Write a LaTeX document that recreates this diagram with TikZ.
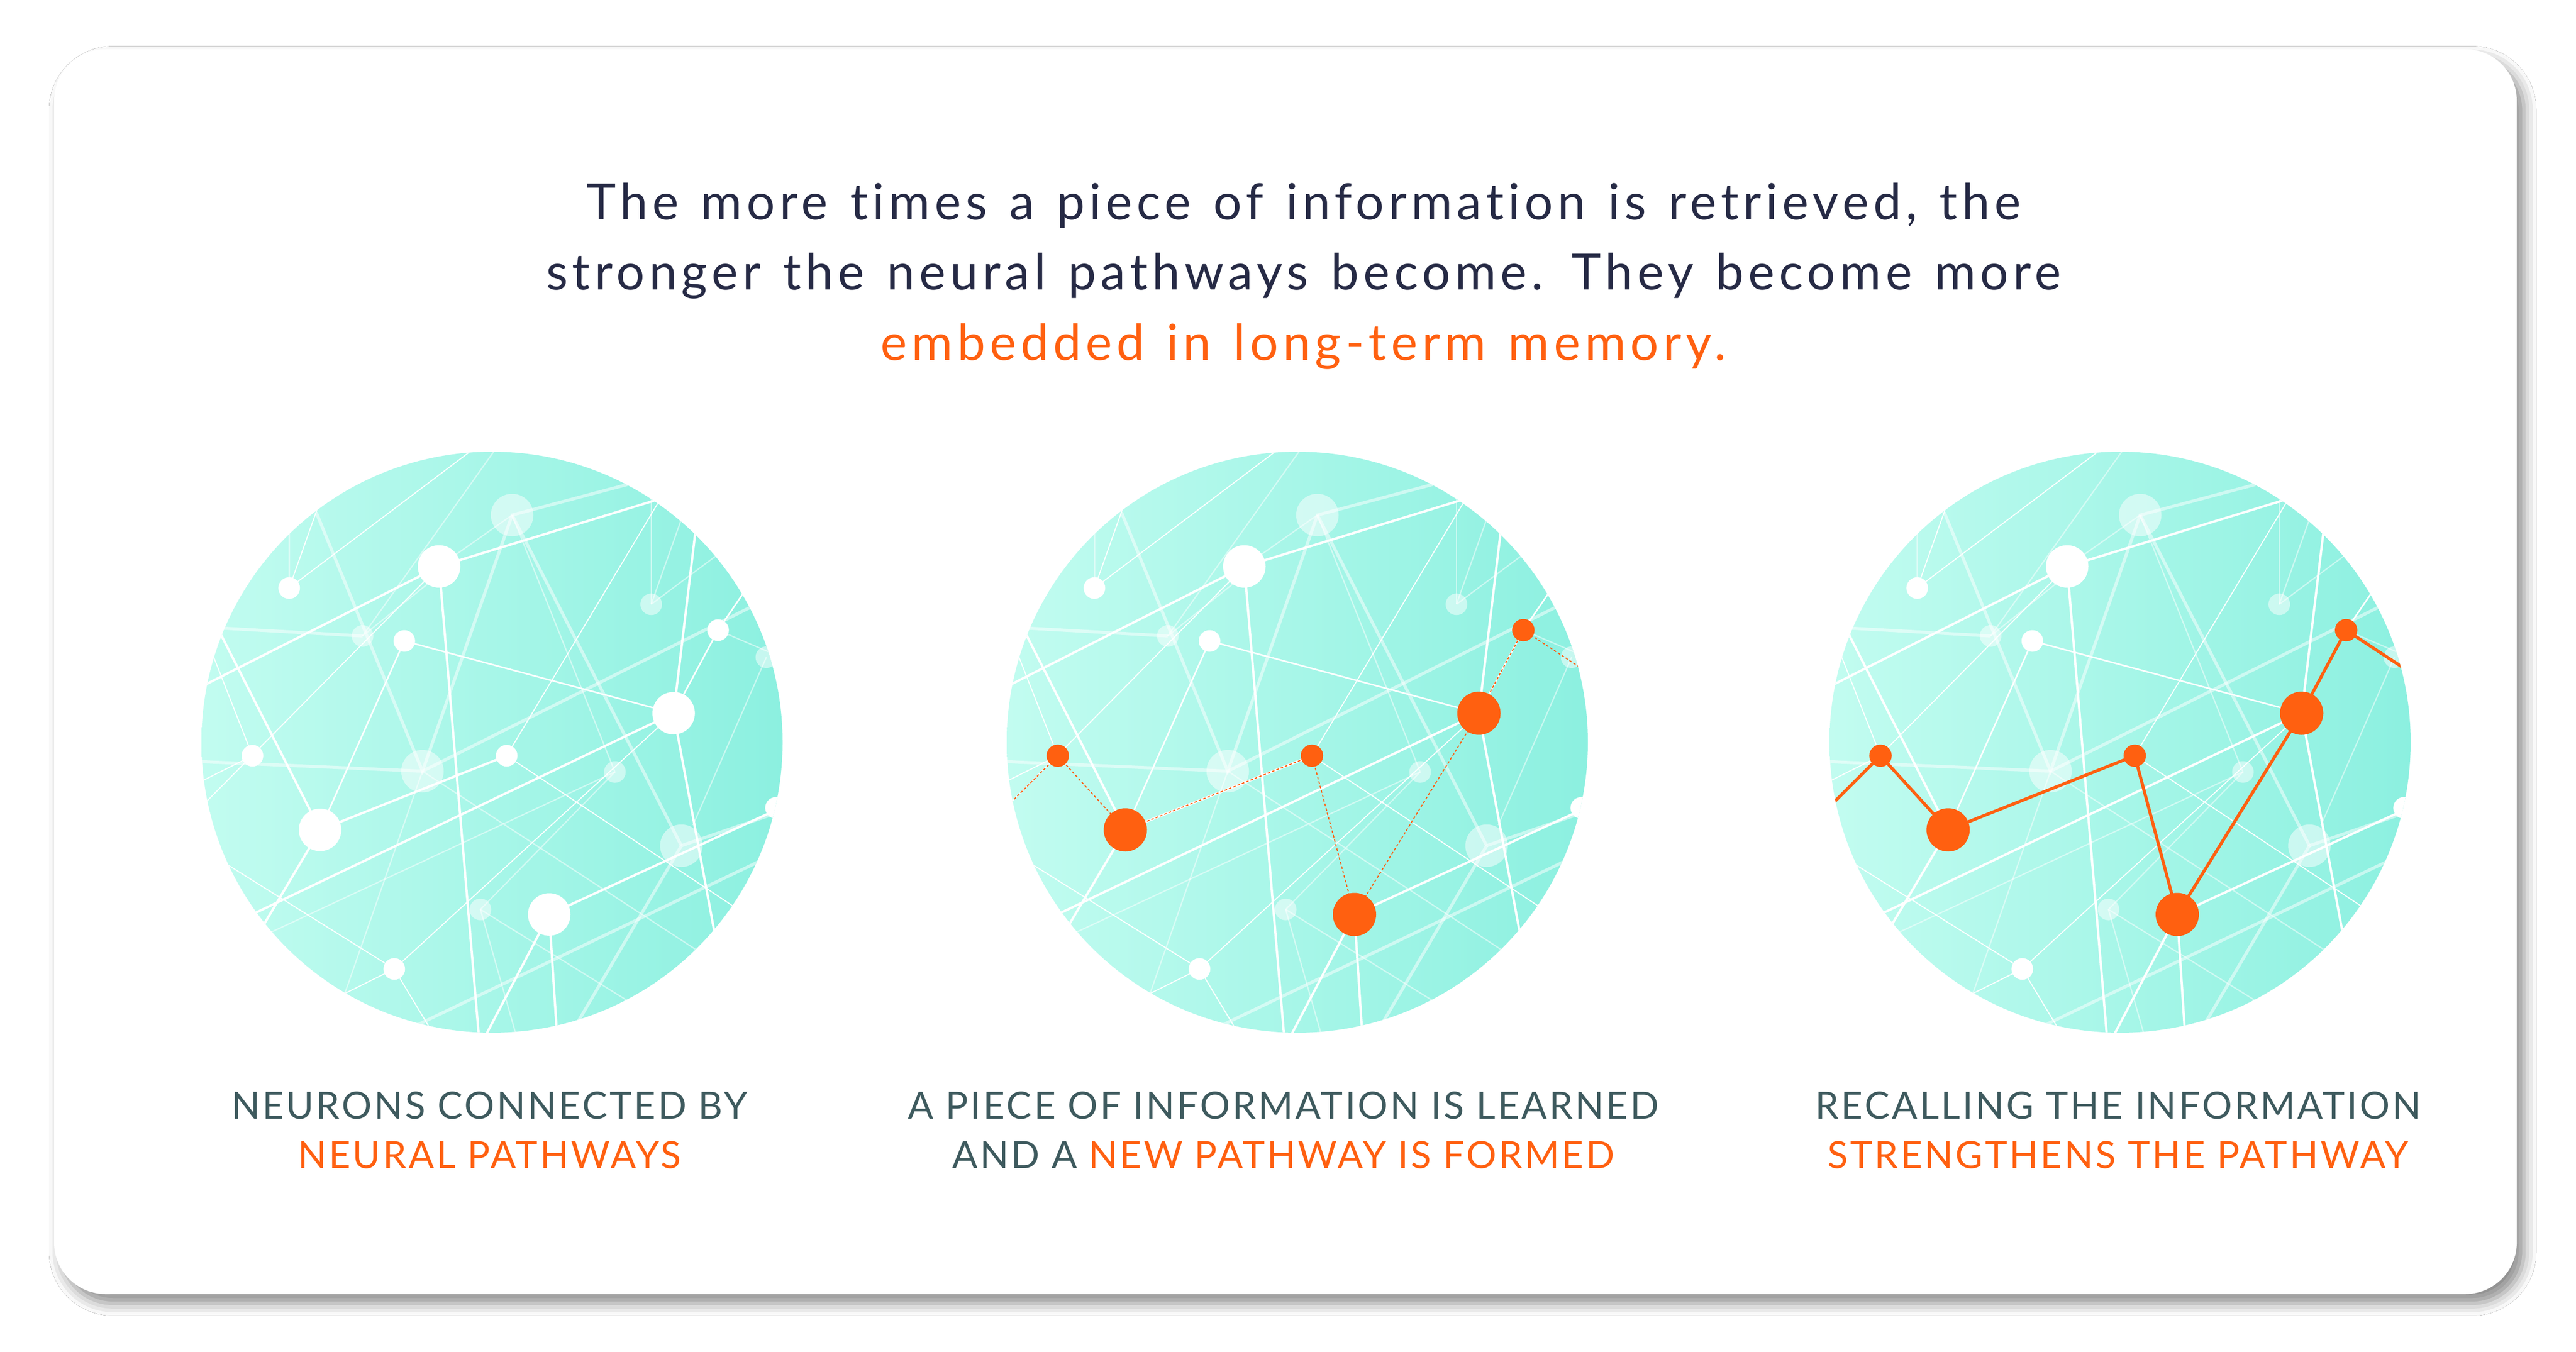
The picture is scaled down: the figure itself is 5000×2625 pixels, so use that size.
\documentclass[tikz,border=0pt]{standalone}
\usepackage{fontspec}
\setmainfont{Lato}
\newfontfamily\headf[LetterSpace=9,WordSpace=1.3,Ligatures={NoCommon}]{Lato}
\newfontfamily\captf[LetterSpace=6,Ligatures={NoCommon}]{Lato}
\usetikzlibrary{shadows.blur}
\definecolor{navy}{HTML}{262A45}
\definecolor{orng}{HTML}{FF6010}
\definecolor{capg}{HTML}{3E5A5E}
\definecolor{tl}{HTML}{C2FCF0}
\definecolor{tr}{HTML}{8CF0E0}
\tikzset{
 thk/.style={white,line width=4.5pt},
 med/.style={white,line width=3pt},
 thn/.style={white,line width=2pt},
 fthk/.style={white,opacity=.5,line width=6pt},
 fthn/.style={white,opacity=.5,line width=2.5pt},
 bign/.style={fill=white},
 fnode/.style={fill=white,opacity=.5},
 opath/.style={orng,line width=6pt},
 odash/.style={orng,line width=2pt,dash pattern=on 5pt off 4pt},
 head/.style={font=\headf\fontsize{97}{137}\selectfont,align=center},
 capt/.style={font=\captf\fontsize{73}{96}\selectfont,align=center,text=capg}
}
\newcommand\netw[3]{%
\begin{scope}[shift={(#1,#2)},x=0.75pt,y=-0.75pt,shift={(-780,-775)}]
\shade[left color=tl,right color=tr] (780,775) circle (752);
\begin{scope}
\clip (780,775) circle (752);
% faint lines
\draw[fthk] (325,180)--(600,850)--(832,187)--(1130,108);
\draw[fthn] (832,187)--(643,320);
\draw[fthk] (832,187)--(1270,1043);
\draw[fthk] (20,825)--(600,850)--(1460,420);
\draw[fthn] (600,850)--(380,1480);
\draw[fthn] (600,850)--(1320,1320);
\draw[fthk] (85,480)--(445,500);
\draw[fthn] (445,500)--(790,15);
\draw[fthn] (445,500)--(620,360);
\draw[fthn] (832,187)--(1098,852)--(180,1280);
\draw[fthn] (1098,852)--(750,1208)--(850,1560);
\draw[fthn] (750,1208)--(1140,1450);
\draw[fthk] (1270,1043)--(990,1520);
\draw[fthn] (1490,555)--(1300,990);
\draw[fthn] (1192,418)--(1192,120);
\draw[fthn] (1192,418)--(1280,170);
\draw[fthn] (1192,418)--(1370,285);
\draw[fthk] (580,1510)--(1500,1070);
\draw[fthk] (1270,1043)--(1540,950);
\draw[fthn] (1365,485)--(1540,560);
% white lines
\draw[thk] (20,635)--(643,320)--(1215,145);
\draw[thk] (643,320)--(748,1560);
\draw[thk] (60,460)--(335,1002)--(170,1280);
\draw[med] (335,1002)--(553,513);
\draw[med] (553,513)--(1250,700);
\draw[thk] (1250,700)--(1360,1290);
\draw[med] (1250,700)--(1365,485)--(1440,375);
\draw[thk] (1310,200)--(1250,700);
\draw[thk] (140,1230)--(1250,700);
\draw[thk] (335,1002)--(818,810);
\draw[thn] (1225,130)--(818,810);
\draw[thn] (818,810)--(1420,1210);
\draw[thn] (1250,700)--(527,1362);
\draw[thn] (643,320)--(20,950);
\draw[thk] (928,1221)--(1560,930);
\draw[thk] (928,1221)--(750,1560);
\draw[thk] (928,1221)--(950,1560);
\draw[thn] (527,1362)--(640,1550);
\draw[thn] (527,1362)--(380,1435);
\draw[thn] (527,1362)--(60,1070);
\draw[thn] (160,810)--(50,530);
\draw[thn] (160,810)--(20,880);
\draw[thn] (255,376)--(740,10);
\draw[thn] (255,376)--(330,165);
\draw[fthn] (255,376)--(255,220);
% faint nodes
\fill[fnode] (832,187) circle (55) (600,850) circle (55) (1270,1043) circle (55)
 (445,500) circle (28) (1192,418) circle (28) (1098,852) circle (28) (750,1208) circle (28) (1490,555) circle (28);
% white nodes
\fill[bign] (643,320) circle (55) (1250,700) circle (55) (335,1002) circle (55) (928,1221) circle (55)
 (255,376) circle (28) (553,513) circle (28) (160,810) circle (28) (818,810) circle (28)
 (1365,485) circle (28) (527,1362) circle (28) (1515,945) circle (28);
#3
\end{scope}
\end{scope}}
\newcommand\opts[1]{%
\coordinate (p0) at (30,940);
\coordinate (p1) at (160,810);
\coordinate (p2) at (335,1002);
\coordinate (p3) at (818,810);
\coordinate (p4) at (928,1221);
\coordinate (p5) at (1250,700);
\coordinate (p6) at (1365,485);
\coordinate (p7) at (1540,600);
\draw[#1] (p0)--(p1)--(p2)--(p3)--(p4)--(p5)--(p6)--(p7);
\fill[orng] (p1) circle (29) (p3) circle (29) (p6) circle (29)
 (p2) circle (56) (p4) circle (56) (p5) circle (56);}
\begin{document}
\begin{tikzpicture}[x=1pt,y=-1pt]
\useasboundingbox (0,0) rectangle (5000,2625);
\fill[white] (0,0) rectangle (5000,2625);
\node[draw=none,fill=white,rounded corners=100pt,minimum width=4780pt,minimum height=2417pt,
 blur shadow={shadow xshift=14pt,shadow yshift=-18pt,shadow blur radius=24pt,shadow opacity=45}] (card) at (2495,1304) {};
\node[head,text=navy] (h1) at (2530,399) {The more times a piece of information is retrieved, the};
\node[head,text=navy] (h2) at (2530,536) {stronger the neural pathways become. They become more};
\node[head,text=orng] (h3) at (2530,673) {embedded in long-term memory.};
\netw{955}{1441}{}
\netw{2518}{1441}{\opts{odash}}
\netw{4115}{1441}{\opts{opath}}
\node[capt] (c1) at (950,2146) {NEURONS CONNECTED BY};
\node[capt,text=orng] (c1b) at (950,2242) {NEURAL PATHWAYS};
\node[capt] (c2) at (2491,2146) {A PIECE OF INFORMATION IS LEARNED};
\node[capt] (c2b) at (2491,2242) {AND A \textcolor{orng}{NEW PATHWAY IS FORMED}};
\node[capt] (c3) at (4111,2146) {RECALLING THE INFORMATION};
\node[capt,text=orng] (c3b) at (4111,2242) {STRENGTHENS THE PATHWAY};
\end{tikzpicture}
\end{document}
